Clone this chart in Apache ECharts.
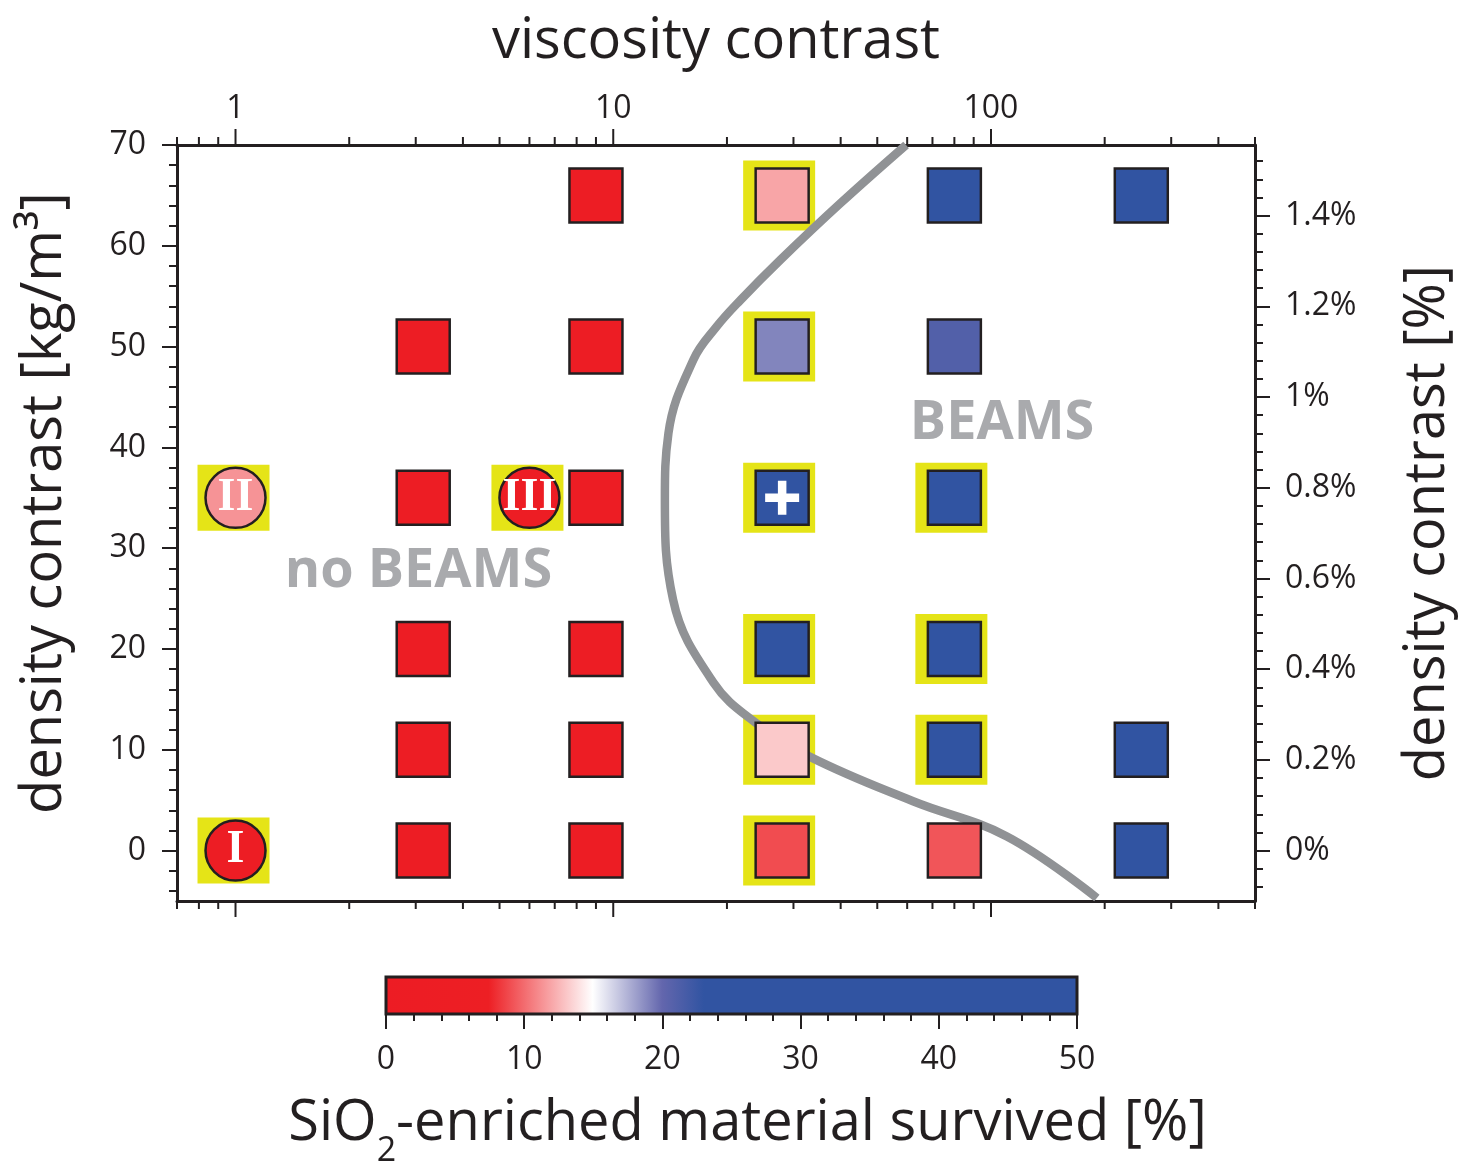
<!DOCTYPE html>
<html>
<head>
<meta charset="utf-8">
<script src="https://cdn.jsdelivr.net/npm/echarts@6/dist/echarts.min.js"></script>
<style>
  html, body { margin: 0; padding: 0; background: #fff; }
  #chart { width: 1465px; height: 1166px; }
</style>
</head>
<body>
<div id="chart"></div>
<script>
// model runs shown as squares: viscosity contrast, density contrast [kg/m3], SiO2 survived [%]
const squareVisc = [9, 28, 80, 250, 3.14, 9, 28, 80, 3.14, 9, 28, 80, 3.14, 9, 28, 80, 3.14, 9, 28, 80, 250, 3.14, 9, 28, 80, 250];
const squareDens = [65, 65, 65, 65, 50, 50, 50, 50, 35, 35, 35, 35, 20, 20, 20, 20, 10, 10, 10, 10, 10, 0, 0, 0, 0, 0];
const squareSurv = [3, 12, 36, 36, 3, 3, 19, 21, 3, 3, 36, 36, 3, 3, 36, 36, 3, 3, 13.2, 36, 36, 3, 3, 9, 9.3, 36];

// reference cases I, II, III (circles)
const circleVisc = [1, 1, 6];
const circleDens = [0, 35, 35];
const circleSurv = [3, 11.4, 3];
const circleNames = ['I', 'II', 'III'];

// runs highlighted with a yellow frame
const boxVisc = [28, 28, 28, 80, 28, 80, 28, 80, 28];
const boxDens = [65, 50, 35, 35, 20, 20, 10, 10, 0];

// run marked with a cross
const crossVisc = [28];
const crossDens = [35];

// regime boundary (BEAMS / no BEAMS)
const curveVisc = [59.6, 39.9, 27.7, 21.7, 18.8, 16.3, 14.0, 13.7, 14.4, 18.4, 23.8, 33.2, 62.2, 110.2, 190.7];
const curveDens = [70, 64.2, 58.6, 54.6, 52.0, 48.7, 41.4, 34.8, 24.9, 16.7, 12.7, 9.3, 4.9, 1.4, -4.7];

// axes
const viscMajor = [1, 10, 100];
const viscMinor = [0.7, 0.8, 0.9, 2, 3, 4, 5, 6, 7, 8, 9, 20, 30, 40, 50, 60, 70, 80, 90, 200, 300, 400, 500];
const densMin = -5, densMax = 70;
const densTicks = [0, 10, 20, 30, 40, 50, 60, 70];
const pctTicks = [0, 0.2, 0.4, 0.6, 0.8, 1, 1.2, 1.4];
const refDensity = 45; // kg/m3 per 1 %

// colour scale (value, colour)
const cmapStops = [[0, '#ed1c24'], [7.5, '#ed1f24'], [15, '#ffffff'], [20, '#6366ad'], [23, '#3154a2'], [50, '#3154a2']];

const ink = '#231f20';
const font = "'Open Sans', 'Noto Sans', sans-serif";
const yellow = '#e5e417';
const grey = '#939598';

function steps(from, to, step, skip) {
  const out = [];
  for (let k = Math.ceil(from / step - 1e-9); k * step <= to + 1e-9; k++) {
    if (k % skip !== 0) out.push(+(k * step).toFixed(4));
  }
  return out;
}

function hex(c) {
  return [1, 3, 5].map(i => parseInt(c.slice(i, i + 2), 16));
}
function colorAt(v) {
  for (let i = 1; i < cmapStops.length; i++) {
    const [v0, c0] = cmapStops[i - 1];
    const [v1, c1] = cmapStops[i];
    if (v <= v1) {
      const t = Math.max(0, (v - v0) / (v1 - v0));
      const a = hex(c0), b = hex(c1);
      return 'rgb(' + a.map((x, j) => Math.round(x + (b[j] - x) * t)).join(',') + ')';
    }
  }
  return cmapStops[cmapStops.length - 1][1];
}

const chart = echarts.init(document.getElementById('chart'));

const lineStyle = { color: ink, width: 3 };
const tickStyle = { color: ink, width: 2 };
const labelStyle = { color: ink, fontFamily: font, fontSize: 32 };

function renderXTick(params, api) {
  const v = api.value(0);
  const len = api.value(1) ? 16 : 8;
  const b = api.coord([v, densMin]);
  const t = api.coord([v, densMax]);
  const style = { stroke: ink, lineWidth: 2 };
  return {
    type: 'group',
    children: [
      { type: 'line', shape: { x1: b[0], y1: b[1], x2: b[0], y2: b[1] + len }, style: style },
      { type: 'line', shape: { x1: t[0], y1: t[1], x2: t[0], y2: t[1] - len }, style: style }
    ]
  };
}

const barGradient = new echarts.graphic.LinearGradient(0, 0, 1, 0,
  cmapStops.map(s => ({ offset: s[0] / 50, color: s[1] })));

const option = {
  animation: false,
  backgroundColor: '#fff',
  grid: [
    { left: 177, top: 145, width: 1078, height: 756, outerBoundsMode: 'none' },
    { left: 386, top: 977, width: 691, height: 37, outerBoundsMode: 'none' }
  ],
  xAxis: [
    {
      type: 'log', gridIndex: 0, position: 'bottom', min: 0.7, max: 500,
      axisLine: { onZero: false, lineStyle: lineStyle },
      axisTick: { show: false }, axisLabel: { show: false }, splitLine: { show: false }
    },
    {
      type: 'log', gridIndex: 0, position: 'top', min: 0.7, max: 500,
      axisLine: { onZero: false, lineStyle: lineStyle },
      axisTick: { show: false }, splitLine: { show: false },
      axisLabel: Object.assign({ margin: 20, showMinLabel: false, showMaxLabel: false,
        formatter: v => String(Math.round(v)) }, labelStyle),
      name: 'viscosity contrast', nameLocation: 'middle', nameGap: 75,
      nameTextStyle: { color: ink, fontFamily: font, fontSize: 56 }
    },
    {
      type: 'value', gridIndex: 1, min: 0, max: 50, interval: 10,
      axisLine: { show: false },
      axisTick: { length: 15, lineStyle: tickStyle },
      minorTick: { show: true, splitNumber: 5, length: 7, lineStyle: tickStyle },
      splitLine: { show: false },
      axisLabel: Object.assign({ margin: 30 }, labelStyle),
      name: '{a|SiO}{s|2}{a|-enriched material survived [%]}',
      nameLocation: 'middle', nameGap: 82,
      nameTextStyle: {
        padding: [0, 0, 0, 32],
        rich: {
          a: { color: ink, fontFamily: font, fontSize: 56, lineHeight: 60, verticalAlign: 'top' },
          s: { color: ink, fontFamily: font, fontSize: 34, lineHeight: 72, verticalAlign: 'bottom' }
        }
      }
    }
  ],
  yAxis: [
    {
      type: 'value', gridIndex: 0, position: 'left', min: densMin, max: densMax,
      axisLine: { show: true, onZero: false, lineStyle: lineStyle },
      axisTick: { show: true, customValues: densTicks, length: 15, lineStyle: tickStyle },
      axisLabel: Object.assign({ customValues: densTicks, margin: 31 }, labelStyle),
      splitLine: { show: false },
      name: 'density contrast [kg/m³]', nameLocation: 'middle', nameRotate: 90, nameGap: 104,
      nameTextStyle: { color: ink, fontFamily: font, fontSize: 56, padding: [0, 0, 0, 40] }
    },
    {
      type: 'value', gridIndex: 0, position: 'left', min: densMin, max: densMax,
      axisLine: { show: false, onZero: false },
      axisTick: { show: true, customValues: steps(densMin, densMax, 2, 5), length: 8, lineStyle: tickStyle },
      axisLabel: { show: false }, splitLine: { show: false }
    },
    {
      type: 'value', gridIndex: 0, position: 'right', min: densMin / refDensity, max: densMax / refDensity,
      axisLine: { show: true, onZero: false, lineStyle: lineStyle },
      axisTick: { show: true, customValues: pctTicks, length: 15, lineStyle: tickStyle },
      axisLabel: Object.assign({ customValues: pctTicks, margin: 30,
        formatter: v => (+v.toFixed(1)) + '%' }, labelStyle),
      splitLine: { show: false },
      name: 'density contrast [%]', nameLocation: 'middle', nameRotate: 90, nameGap: 145,
      nameTextStyle: { color: ink, fontFamily: font, fontSize: 56 }
    },
    {
      type: 'value', gridIndex: 0, position: 'right', min: densMin / refDensity, max: densMax / refDensity,
      axisLine: { show: false, onZero: false },
      axisTick: { show: true, customValues: steps(densMin / refDensity, densMax / refDensity, 0.04, 5), length: 8, lineStyle: tickStyle },
      axisLabel: { show: false }, splitLine: { show: false }
    },
    { type: 'value', gridIndex: 1, min: 0, max: 1, show: false }
  ],
  series: [
    {
      type: 'scatter', name: 'frame', xAxisIndex: 0, yAxisIndex: 0, z: 2, silent: true,
      symbol: 'rect', symbolSize: [72, 70], symbolOffset: [-3, 0],
      itemStyle: { color: yellow, opacity: 1 },
      data: boxVisc.map((v, i) => [v, boxDens[i]])
    },
    {
      type: 'scatter', name: 'frame cases', xAxisIndex: 0, yAxisIndex: 0, z: 2, silent: true,
      symbol: 'rect', symbolSize: [72, 66], symbolOffset: [-2, 0],
      itemStyle: { color: yellow, opacity: 1 },
      data: circleVisc.map((v, i) => [v, circleDens[i]])
    },
    {
      type: 'line', name: 'boundary', xAxisIndex: 0, yAxisIndex: 0, z: 3, silent: true,
      smooth: 0.4, showSymbol: false, symbol: 'none',
      lineStyle: { color: '#909295', width: 8.5 },
      data: curveVisc.map((v, i) => [v, curveDens[i]])
    },
    {
      type: 'scatter', name: 'runs', xAxisIndex: 0, yAxisIndex: 0, z: 4, silent: true,
      symbol: 'rect', symbolSize: [53, 54],
      itemStyle: { borderColor: ink, borderWidth: 2.5, opacity: 1 },
      data: squareVisc.map((v, i) => ({
        value: [v, squareDens[i], squareSurv[i]],
        itemStyle: { color: colorAt(squareSurv[i]) }
      }))
    },
    {
      type: 'scatter', name: 'cases', xAxisIndex: 0, yAxisIndex: 0, z: 4, silent: true,
      symbol: 'circle', symbolSize: 60,
      itemStyle: { borderColor: ink, borderWidth: 2.5, opacity: 1 },
      label: {
        show: true, position: 'inside', color: '#fff', fontSize: 46, fontWeight: 'bold',
        fontFamily: "'Liberation Serif', 'DejaVu Serif', serif",
        formatter: p => circleNames[p.dataIndex]
      },
      data: circleVisc.map((v, i) => ({
        value: [v, circleDens[i], circleSurv[i]],
        itemStyle: { color: colorAt(circleSurv[i]) }
      }))
    },
    {
      type: 'scatter', name: 'cross', xAxisIndex: 0, yAxisIndex: 0, z: 5, silent: true,
      symbol: 'path://M3,0H5V3H8V5H5V8H3V5H0V3H3Z', symbolSize: [34, 34],
      itemStyle: { color: '#fff', opacity: 1 },
      data: crossVisc.map((v, i) => [v, crossDens[i]])
    },
    {
      type: 'scatter', name: 'regimes', xAxisIndex: 0, yAxisIndex: 0, z: 5, silent: true,
      symbolSize: 1, itemStyle: { color: 'rgba(0,0,0,0)' },
      label: {
        show: true, position: 'inside', color: grey, fontFamily: font, fontWeight: 'bold', fontSize: 54,
        formatter: p => p.name
      },
      data: [
        { name: 'no BEAMS', value: [3.05, 27.7] },
        { name: 'BEAMS', value: [107, 42.4] }
      ]
    },
    {
      type: 'custom', name: 'viscosity ticks', xAxisIndex: 0, yAxisIndex: 0, z: 6, silent: true,
      renderItem: renderXTick,
      data: viscMajor.map(v => [v, 1]).concat(viscMinor.map(v => [v, 0]))
    },
    {
      type: 'custom', name: 'colour bar', xAxisIndex: 2, yAxisIndex: 4, z: 2, silent: true,
      renderItem: function (params, api) {
        const a = api.coord([0, 1]);
        const b = api.coord([50, 0]);
        return {
          type: 'rect',
          shape: { x: a[0], y: a[1], width: b[0] - a[0], height: b[1] - a[1] },
          style: { fill: barGradient, stroke: ink, lineWidth: 3 }
        };
      },
      data: [[0, 0]]
    }
  ]
};

chart.setOption(option);
</script>
</body>
</html>
